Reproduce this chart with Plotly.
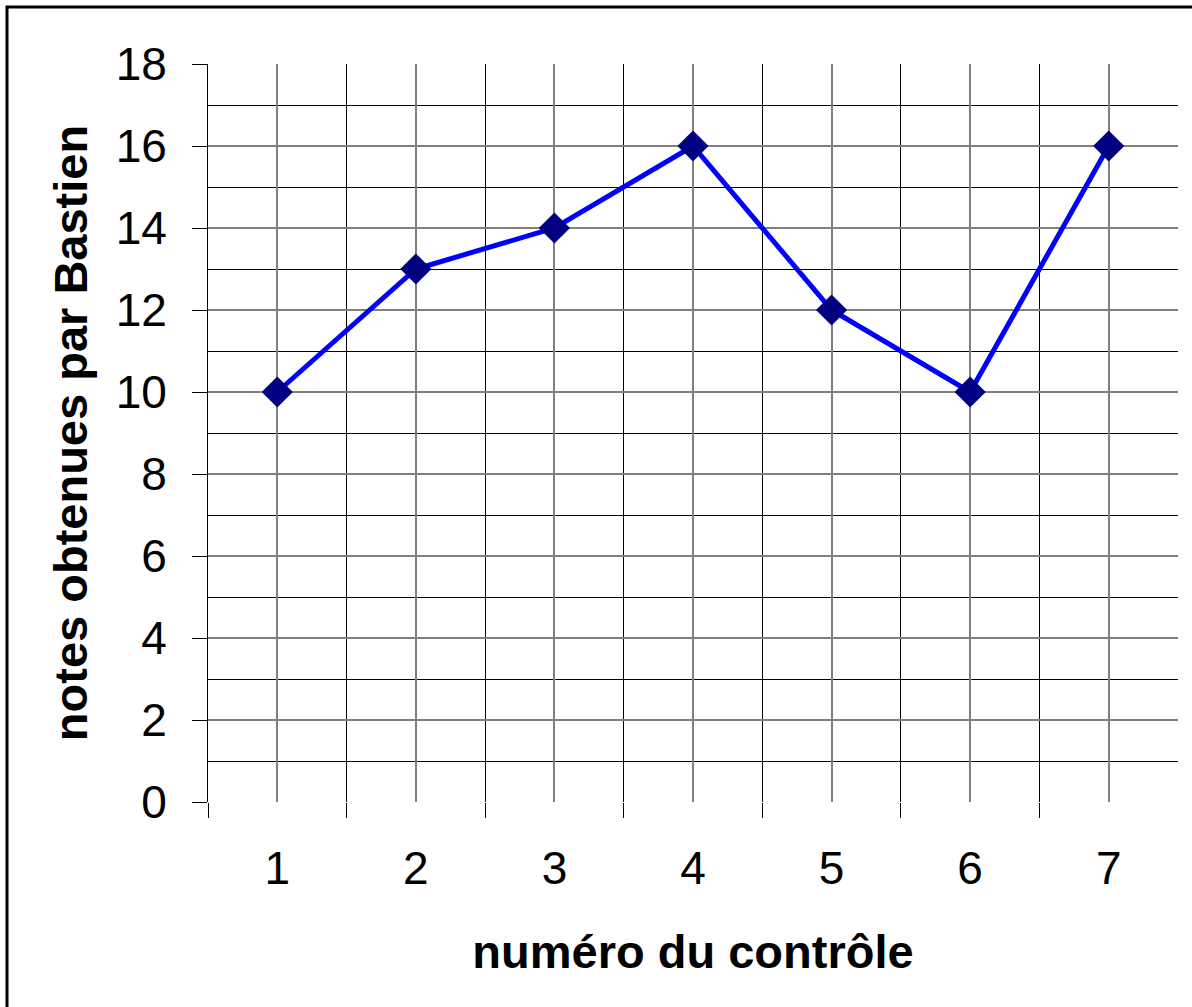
import plotly.graph_objects as go

controles = [1, 2, 3, 4, 5, 6, 7]
notes = [10, 13, 14, 16, 12, 10, 16]
y_ticks = [0, 2, 4, 6, 8, 10, 12, 14, 16, 18]
x_title = "numéro du contrôle"
y_title = "notes obtenues par Bastien"

FONT = "Liberation Sans, Arial, sans-serif"

L, R, T, B = 208, 14, 64, 205
W, H = 1192, 1007
pw, ph = W - L - R, H - T - B

fig = go.Figure()
fig.add_trace(go.Scatter(
    x=controles, y=notes, mode="lines+markers",
    line=dict(color="#0000FF", width=5),
    marker=dict(symbol="diamond", size=24, color="#000080",
                line=dict(width=0)),
    showlegend=False,
))

fig.update_layout(
    width=W, height=H,
    margin=dict(l=L, r=R, t=T, b=B, autoexpand=False),
    paper_bgcolor="white", plot_bgcolor="white",
    font=dict(family=FONT, size=46, color="black"),
    shapes=[dict(type="rect", xref="paper", yref="paper",
                 x0=-(L - 7) / pw, y0=-(B + 20) / ph,
                 x1=1 + (R + 20) / pw, y1=1 + (T - 7) / ph,
                 line=dict(color="black", width=3), layer="below")],
)

fig.update_xaxes(
    range=[0.5, 7.5], tickmode="array", tickvals=controles,
    ticktext=[str(c) for c in controles],
    ticks="", showgrid=True, gridcolor="#808080", gridwidth=2,
    zeroline=False, showline=False, automargin=False,
    ticklabelstandoff=35,
    minor=dict(tickmode="array", tickvals=[0.5 + i for i in range(7)],
               ticks="outside", ticklen=15, tickcolor="black", tickwidth=1,
               showgrid=True, gridcolor="black", gridwidth=1),
    title=dict(text="<b>" + x_title + "</b>", standoff=42,
               font=dict(size=47)),
)

fig.update_yaxes(
    range=[0, 18], tickmode="array", tickvals=y_ticks,
    ticks="outside", ticklen=15, tickcolor="black", tickwidth=1,
    showgrid=True, gridcolor="#808080", gridwidth=2,
    zeroline=False, showline=True, linecolor="black", linewidth=1,
    automargin=False,
    ticklabelstandoff=16,
    minor=dict(dtick=1, showgrid=True, gridcolor="black", gridwidth=1, ticks=""),
    title=dict(text="<b>" + y_title + "</b>", standoff=13,
               font=dict(size=47)),
)

fig.write_html("out.html", config={"displayModeBar": False},
               post_script="document.body.style.margin='0';")
